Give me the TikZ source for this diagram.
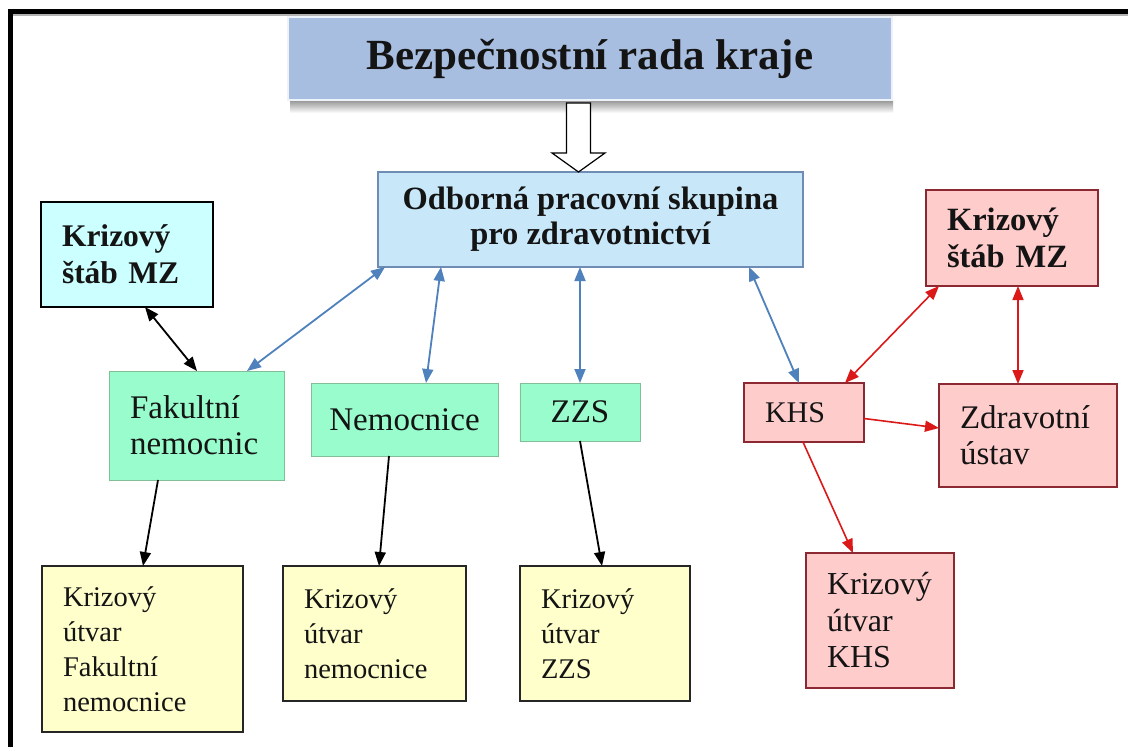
\documentclass[tikz,border=0pt]{standalone}
\usepackage{fontspec}
\setmainfont{Liberation Serif}
\usetikzlibrary{arrows.meta,calc}
\definecolor{titlefill}{RGB}{168,190,224}
\definecolor{opfill}{RGB}{200,232,250}
\definecolor{opdraw}{RGB}{110,140,180}
\definecolor{cyanfill}{RGB}{204,255,255}
\definecolor{greenfill}{RGB}{153,252,204}
\definecolor{greendraw}{RGB}{130,190,150}
\definecolor{yellowfill}{RGB}{255,255,204}
\definecolor{redfill}{RGB}{255,204,204}
\definecolor{reddraw}{RGB}{140,40,50}
\definecolor{arrblue}{RGB}{79,129,189}
\definecolor{arrred}{RGB}{220,25,25}
\definecolor{txt}{RGB}{20,20,20}
\begin{document}
\begin{tikzpicture}[x=1pt,y=-1pt,
  box/.style={rectangle, anchor=north west, inner ysep=0pt, inner xsep=21pt, outer sep=0pt, line width=1.3pt, text=txt},
  lbox/.style={box, align=left},
  cbox/.style={box, align=center, inner xsep=0pt},
  tip/.style={Triangle[length=14pt,width=11pt]},
  bluearr/.style={draw=arrblue, line width=1.8pt, {Triangle[length=14pt,width=11pt]}-{Triangle[length=14pt,width=11pt]}},
  blackarr/.style={draw=black, line width=1.8pt, -{Triangle[length=14pt,width=11pt]}},
  blackdbl/.style={draw=black, line width=1.8pt, {Triangle[length=14pt,width=11pt]}-{Triangle[length=14pt,width=11pt]}},
  redarr/.style={draw=arrred, line width=1.6pt, -{Triangle[length=14pt,width=11pt]}},
  reddbl/.style={draw=arrred, line width=1.6pt, {Triangle[length=14pt,width=11pt]}-{Triangle[length=14pt,width=11pt]}},
  regfont/.style={font=\fontsize{33}{36}\selectfont},
  smallfont/.style={font=\fontsize{28.5}{35}\selectfont},
  boldfont/.style={font=\fontsize{31.5}{37}\selectfont\bfseries},
]
\useasboundingbox (0,0) rectangle (1128,747);
\fill[white] (0,0) rectangle (1128,747);
% frame
\fill[black] (8,9) rectangle (1128,14);
\fill[black] (8,9) rectangle (13,747);
\fill[gray!60] (13,14) rectangle (1128,15.5);

% title
\shade[top color=gray!85, bottom color=white] (290,100) rectangle (893,113);
\node[cbox, fill=titlefill, draw=white!80!titlefill, line width=1.5pt,
      minimum width=604pt, minimum height=83pt,
      font=\fontsize{43}{46}\selectfont\bfseries] (title) at (288,17) {\raisebox{-6pt}{Bezpečnostní rada kraje}};

% main group
\node[cbox, fill=opfill, draw=opdraw, line width=1.2pt, minimum width=425pt, minimum height=95pt,
      font=\fontsize{32.5}{35}\selectfont\bfseries] (opsz) at (378,172) {Odborná pracovní skupina\\pro zdravotnictví};

% hollow arrow
\draw[line width=1.2pt, fill=white]
  ([xshift=-12pt]opsz.north) -- ++(-26.5,-19) -- ++(14.5,0) -- ++(0,-50) -- ++(24,0) -- ++(0,50) -- ++(14.5,0) -- cycle;

% left crisis staff
\node[lbox, boldfont, fill=cyanfill, draw=black, minimum width=172pt, minimum height=105pt, text width=130pt] (kmzL) at (41,202) {Krizový\\štáb MZ};

% middle row
\node[lbox, regfont, fill=greenfill, draw=greendraw, line width=1pt, minimum width=175pt, minimum height=109pt, text width=133pt] (fn) at (109,371) {Fakultní\\nemocnic};
\node[cbox, regfont, fill=greenfill, draw=greendraw, line width=1pt, minimum width=187pt, minimum height=73pt] (nem) at (311,383) {Nemocnice};
\node[cbox, regfont, fill=greenfill, draw=greendraw, line width=1pt, minimum width=120pt, minimum height=58pt] (zzs) at (520,383) {ZZS};
\node[lbox, font=\fontsize{30}{34}\selectfont, fill=redfill, draw=reddraw, minimum width=120pt, minimum height=59pt, text width=78pt] (khs) at (744,383) {KHS};

% right side
\node[lbox, font=\fontsize{32.5}{37}\selectfont\bfseries, fill=redfill, draw=reddraw, minimum width=172pt, minimum height=96pt, text width=130pt] (kmzR) at (926,190) {Krizový\\štáb MZ};
\node[lbox, regfont, fill=redfill, draw=reddraw, minimum width=178pt, minimum height=103pt, text width=136pt] (zu) at (939,384) {Zdravotní\\ústav};
\node[lbox, font=\fontsize{32}{36.5}\selectfont, fill=redfill, draw=reddraw, minimum width=148pt, minimum height=135pt, text width=106pt] (kuK) at (806,553) {Krizový\\útvar\\KHS};

% bottom row
\node[lbox, smallfont, fill=yellowfill, draw=black!85, minimum width=201pt, minimum height=166pt, text width=159pt] (kuFN) at (42,566) {Krizový\\útvar\\Fakultní\\nemocnice};
\node[lbox, smallfont, fill=yellowfill, draw=black!85, minimum width=183pt, minimum height=135pt, text width=141pt] (kuN) at (283,566) {Krizový\\útvar\\nemocnice};
\node[lbox, smallfont, fill=yellowfill, draw=black!85, minimum width=170pt, minimum height=135pt, text width=128pt] (kuZ) at (520,566) {Krizový\\útvar\\ZZS};

% blue connectors
\draw[bluearr] ([xshift=7pt]opsz.south west) -- ([xshift=138pt]fn.north west);
\draw[bluearr] ([xshift=63pt]opsz.south west) -- ([xshift=115pt]nem.north west);
\draw[bluearr] (zzs.north |- opsz.south) -- (zzs.north);
\draw[bluearr] ([xshift=-54pt]opsz.south east) -- ([xshift=55pt]khs.north west);

% black connectors
\draw[blackdbl] ([xshift=104pt]kmzL.south west) -- ([xshift=88pt]fn.north west);
\draw[blackarr] ([xshift=49pt]fn.south west) -- ([xshift=101pt]kuFN.north west);
\draw[blackarr] ([xshift=78pt]nem.south west) -- ([xshift=96pt]kuN.north west);
\draw[blackarr] (zzs.south) -- ([xshift=82pt]kuZ.north west);

% red connectors
\draw[reddbl] ([xshift=-19pt]khs.north east) -- ([xshift=13pt]kmzR.south west);
\draw[reddbl] ([xshift=92pt]kmzR.south west) -- ([xshift=79pt]zu.north west);
\draw[redarr] ([yshift=-6pt]khs.east) -- ([yshift=7.5pt]zu.west);
\draw[redarr] ([xshift=59pt]khs.south west) -- ([xshift=47pt]kuK.north west);
\end{tikzpicture}
\end{document}
